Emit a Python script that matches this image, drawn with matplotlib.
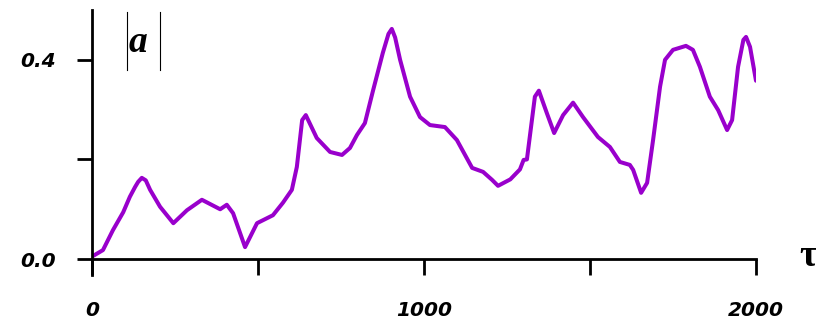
import numpy as np
import matplotlib.pyplot as plt
from matplotlib.lines import Line2D
from matplotlib.ticker import FixedLocator, FixedFormatter

# curve (tau, |a|)
tau = [0, 33, 63, 94, 114, 130, 139, 150, 162, 175, 205, 245, 286, 331, 386,
       406, 425, 461, 497, 545, 575, 602, 617, 633, 644, 677, 717, 753, 777,
       798, 822, 846, 876, 893, 903, 913, 928, 958, 988, 1018, 1063, 1099,
       1145, 1178, 1205, 1223, 1260, 1289, 1300, 1310, 1334, 1346, 1370, 1392,
       1419, 1449, 1479, 1524, 1560, 1590, 1620, 1630, 1654, 1672, 1690, 1711,
       1726, 1750, 1789, 1810, 1831, 1861, 1886, 1913, 1928, 1946, 1962, 1970,
       1982, 2000]
amp = [0.005, 0.018, 0.058, 0.094, 0.125, 0.145, 0.155, 0.163, 0.158, 0.139,
       0.105, 0.072, 0.098, 0.119, 0.100, 0.109, 0.092, 0.024, 0.072, 0.088,
       0.113, 0.139, 0.185, 0.279, 0.289, 0.243, 0.215, 0.209, 0.223, 0.249,
       0.273, 0.337, 0.414, 0.452, 0.462, 0.445, 0.400, 0.326, 0.285, 0.269,
       0.265, 0.239, 0.183, 0.175, 0.159, 0.147, 0.160, 0.180, 0.199, 0.200,
       0.326, 0.338, 0.293, 0.253, 0.289, 0.314, 0.285, 0.245, 0.225, 0.195,
       0.189, 0.179, 0.133, 0.153, 0.239, 0.346, 0.400, 0.420, 0.428, 0.420,
       0.386, 0.326, 0.299, 0.259, 0.279, 0.386, 0.440, 0.446, 0.426, 0.358]

xticks = [0, 500, 1000, 1500, 2000]
xlabels = ['0', '', '1000', '', '2000']
yticks = [0.0, 0.2, 0.4]
ylabels = ['0.0', '', '0.4']

fig = plt.figure(figsize=(8.16, 3.23), dpi=100)
ax = fig.add_axes([92/816, 1 - 275/323, (756 - 92)/816, (275 - 10)/323])

ax.plot(tau, amp, color='#9900cc', lw=2.9, solid_joinstyle='round',
        solid_capstyle='round')

ax.set_xlim(0, 2000)
ax.set_ylim(-0.032, 0.5)
ax.spines['top'].set_visible(False)
ax.spines['right'].set_visible(False)
ax.spines['bottom'].set_position(('data', 0))
ax.spines['bottom'].set_bounds(0, 2000)
for s in ['left', 'bottom']:
    ax.spines[s].set_linewidth(2)

tick_font = dict(family='DejaVu Sans', weight='bold', style='italic', size=14.5)
ax.xaxis.set_major_locator(FixedLocator(xticks))
ax.xaxis.set_major_formatter(FixedFormatter(xlabels))
ax.yaxis.set_major_locator(FixedLocator(yticks))
ax.yaxis.set_major_formatter(FixedFormatter(ylabels))
ax.tick_params(axis='x', direction='out', length=11.5, width=2, pad=19)
ax.tick_params(axis='y', direction='out', length=11, width=2, pad=15)
for lab in ax.get_xticklabels() + ax.get_yticklabels():
    lab.set_fontproperties(tick_font)

# |a| label
fig.text(138/816, 1 - 52/323, 'a', family='Liberation Serif', weight='bold',
         style='italic', size=27, ha='center', va='baseline')
for xp in [127, 160]:
    fig.add_artist(Line2D([xp/816, xp/816], [1 - 12/323, 1 - 70/323],
                          color='black', lw=0.8))

# tau label
fig.text(808/816, 1 - 256/323, 'τ', family='Liberation Serif', weight='bold',
         size=27, ha='center', va='center')

fig.savefig('out.png', dpi=100)
